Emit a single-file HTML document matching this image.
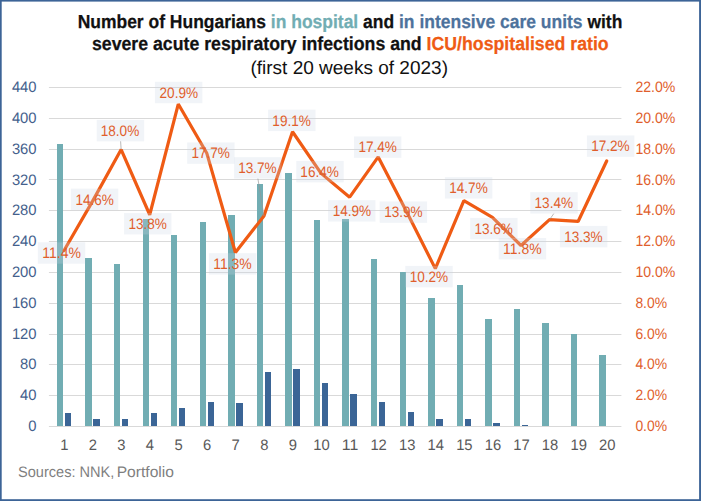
<!DOCTYPE html>
<html><head><meta charset="utf-8"><title>Chart</title>
<style>
html,body{margin:0;padding:0;background:#fff;}
body{width:701px;height:501px;position:relative;overflow:hidden;font-family:"Liberation Sans",sans-serif;}
svg text{font-family:"Liberation Sans",sans-serif;text-rendering:geometricPrecision;}
</style></head><body>
<svg width="701" height="501" viewBox="0 0 701 501" style="position:absolute;left:0;top:0">
<rect x="0" y="0" width="701" height="501" fill="#fff"/>
<rect x="48.9" y="426" width="572.50" height="1" fill="#d9d9d9"/>
<rect x="48.9" y="395" width="572.50" height="1" fill="#d9d9d9"/>
<rect x="48.9" y="364" width="572.50" height="1" fill="#d9d9d9"/>
<rect x="48.9" y="334" width="572.50" height="1" fill="#d9d9d9"/>
<rect x="48.9" y="303" width="572.50" height="1" fill="#d9d9d9"/>
<rect x="48.9" y="272" width="572.50" height="1" fill="#d9d9d9"/>
<rect x="48.9" y="241" width="572.50" height="1" fill="#d9d9d9"/>
<rect x="48.9" y="210" width="572.50" height="1" fill="#d9d9d9"/>
<rect x="48.9" y="179" width="572.50" height="1" fill="#d9d9d9"/>
<rect x="48.9" y="149" width="572.50" height="1" fill="#d9d9d9"/>
<rect x="48.9" y="118" width="572.50" height="1" fill="#d9d9d9"/>
<rect x="48.9" y="87" width="572.50" height="1" fill="#d9d9d9"/>
<rect x="57" y="144" width="6" height="282" fill="#71adb3"/>
<rect x="65" y="413" width="6" height="13" fill="#3b6596"/>
<rect x="85" y="258" width="7" height="168" fill="#71adb3"/>
<rect x="93" y="419" width="7" height="7" fill="#3b6596"/>
<rect x="114" y="264" width="6" height="162" fill="#71adb3"/>
<rect x="122" y="419" width="6" height="7" fill="#3b6596"/>
<rect x="143" y="219" width="6" height="207" fill="#71adb3"/>
<rect x="151" y="413" width="6" height="13" fill="#3b6596"/>
<rect x="171" y="235" width="6" height="191" fill="#71adb3"/>
<rect x="179" y="408" width="6" height="18" fill="#3b6596"/>
<rect x="200" y="222" width="6" height="204" fill="#71adb3"/>
<rect x="208" y="402" width="6" height="24" fill="#3b6596"/>
<rect x="228" y="215" width="7" height="211" fill="#71adb3"/>
<rect x="236" y="403" width="7" height="23" fill="#3b6596"/>
<rect x="257" y="184" width="6" height="242" fill="#71adb3"/>
<rect x="265" y="372" width="6" height="54" fill="#3b6596"/>
<rect x="285" y="173" width="7" height="253" fill="#71adb3"/>
<rect x="293" y="369" width="7" height="57" fill="#3b6596"/>
<rect x="314" y="220" width="6" height="206" fill="#71adb3"/>
<rect x="322" y="383" width="6" height="43" fill="#3b6596"/>
<rect x="342" y="219" width="7" height="207" fill="#71adb3"/>
<rect x="350" y="394" width="7" height="32" fill="#3b6596"/>
<rect x="371" y="259" width="6" height="167" fill="#71adb3"/>
<rect x="379" y="402" width="6" height="24" fill="#3b6596"/>
<rect x="400" y="272" width="6" height="154" fill="#71adb3"/>
<rect x="408" y="412" width="6" height="14" fill="#3b6596"/>
<rect x="428" y="298" width="7" height="128" fill="#71adb3"/>
<rect x="436" y="419" width="7" height="7" fill="#3b6596"/>
<rect x="457" y="285" width="6" height="141" fill="#71adb3"/>
<rect x="465" y="419" width="6" height="7" fill="#3b6596"/>
<rect x="485" y="319" width="7" height="107" fill="#71adb3"/>
<rect x="493" y="423" width="7" height="3" fill="#3b6596"/>
<rect x="514" y="309" width="6" height="117" fill="#71adb3"/>
<rect x="522" y="425" width="6" height="1" fill="#3b6596"/>
<rect x="542" y="323" width="7" height="103" fill="#71adb3"/>
<rect x="571" y="334" width="6" height="92" fill="#71adb3"/>
<rect x="599" y="355" width="7" height="71" fill="#71adb3"/>
<polyline points="64.04,250.46 92.60,201.12 121.16,149.59 149.72,214.75 178.28,104.07 206.84,153.32 235.40,252.50 263.96,216.00 292.52,131.73 321.08,173.36 349.64,197.19 378.20,156.94 406.76,211.91 435.32,268.62 463.88,200.58 492.44,217.34 521.00,245.49 549.56,219.62 578.12,221.46 606.68,161.03" fill="none" stroke="#ef5b14" stroke-width="3.2" stroke-linejoin="bevel" stroke-linecap="round"/>
<line x1="120.60" y1="141.30" x2="121.16" y2="149.59" stroke="rgba(150,150,150,0.75)" stroke-width="0.9"/>
<line x1="257.90" y1="178.60" x2="263.96" y2="216.00" stroke="rgba(150,150,150,0.75)" stroke-width="0.9"/>
<line x1="553.80" y1="213.60" x2="549.56" y2="219.62" stroke="rgba(150,150,150,0.75)" stroke-width="0.9"/>
<rect x="37.81" y="242.30" width="47.4" height="21.4" fill="rgba(199,211,227,0.26)"/>
<rect x="70.87" y="188.70" width="47.4" height="21.4" fill="rgba(199,211,227,0.26)"/>
<rect x="96.74" y="119.90" width="47.4" height="21.4" fill="rgba(199,211,227,0.26)"/>
<rect x="124.04" y="213.05" width="47.4" height="21.4" fill="rgba(199,211,227,0.26)"/>
<rect x="154.90" y="81.80" width="47.4" height="21.4" fill="rgba(199,211,227,0.26)"/>
<rect x="187.20" y="142.40" width="47.4" height="21.4" fill="rgba(199,211,227,0.26)"/>
<rect x="208.92" y="253.20" width="47.4" height="21.4" fill="rgba(199,211,227,0.26)"/>
<rect x="234.10" y="157.20" width="47.4" height="21.4" fill="rgba(199,211,227,0.26)"/>
<rect x="268.10" y="109.70" width="47.4" height="21.4" fill="rgba(199,211,227,0.26)"/>
<rect x="296.30" y="160.90" width="47.4" height="21.4" fill="rgba(199,211,227,0.26)"/>
<rect x="328.08" y="200.20" width="47.4" height="21.4" fill="rgba(199,211,227,0.26)"/>
<rect x="353.96" y="136.40" width="47.4" height="21.4" fill="rgba(199,211,227,0.26)"/>
<rect x="379.70" y="201.40" width="47.4" height="21.4" fill="rgba(199,211,227,0.26)"/>
<rect x="405.25" y="265.90" width="47.4" height="21.4" fill="rgba(199,211,227,0.26)"/>
<rect x="444.92" y="177.20" width="47.4" height="21.4" fill="rgba(199,211,227,0.26)"/>
<rect x="470.20" y="217.90" width="47.4" height="21.4" fill="rgba(199,211,227,0.26)"/>
<rect x="498.72" y="238.00" width="47.4" height="21.4" fill="rgba(199,211,227,0.26)"/>
<rect x="530.30" y="192.20" width="47.4" height="21.4" fill="rgba(199,211,227,0.26)"/>
<rect x="559.90" y="225.90" width="47.4" height="21.4" fill="rgba(199,211,227,0.26)"/>
<rect x="586.90" y="135.40" width="47.4" height="21.4" fill="rgba(199,211,227,0.26)"/>
<text x="61.55" y="258.15" text-anchor="middle" font-size="15.2" fill="#e05e2c" textLength="38.52" lengthAdjust="spacingAndGlyphs">11.4%</text>
<text x="94.65" y="204.75" text-anchor="middle" font-size="15.2" fill="#e05e2c" textLength="38.52" lengthAdjust="spacingAndGlyphs">14.6%</text>
<text x="120.00" y="135.95" text-anchor="middle" font-size="15.2" fill="#e05e2c" textLength="38.52" lengthAdjust="spacingAndGlyphs">18.0%</text>
<text x="147.70" y="229.10" text-anchor="middle" font-size="15.2" fill="#e05e2c" textLength="38.52" lengthAdjust="spacingAndGlyphs">13.8%</text>
<text x="178.80" y="97.85" text-anchor="middle" font-size="15.2" fill="#e05e2c" textLength="38.52" lengthAdjust="spacingAndGlyphs">20.9%</text>
<text x="210.70" y="158.45" text-anchor="middle" font-size="15.2" fill="#e05e2c" textLength="38.52" lengthAdjust="spacingAndGlyphs">17.7%</text>
<text x="232.50" y="269.25" text-anchor="middle" font-size="15.2" fill="#e05e2c" textLength="38.52" lengthAdjust="spacingAndGlyphs">11.3%</text>
<text x="257.40" y="173.25" text-anchor="middle" font-size="15.2" fill="#e05e2c" textLength="38.52" lengthAdjust="spacingAndGlyphs">13.7%</text>
<text x="291.60" y="125.75" text-anchor="middle" font-size="15.2" fill="#e05e2c" textLength="38.52" lengthAdjust="spacingAndGlyphs">19.1%</text>
<text x="319.60" y="176.95" text-anchor="middle" font-size="15.2" fill="#e05e2c" textLength="38.52" lengthAdjust="spacingAndGlyphs">16.4%</text>
<text x="351.90" y="216.25" text-anchor="middle" font-size="15.2" fill="#e05e2c" textLength="38.52" lengthAdjust="spacingAndGlyphs">14.9%</text>
<text x="377.70" y="152.45" text-anchor="middle" font-size="15.2" fill="#e05e2c" textLength="38.52" lengthAdjust="spacingAndGlyphs">17.4%</text>
<text x="403.40" y="217.45" text-anchor="middle" font-size="15.2" fill="#e05e2c" textLength="38.52" lengthAdjust="spacingAndGlyphs">13.9%</text>
<text x="428.95" y="281.95" text-anchor="middle" font-size="15.2" fill="#e05e2c" textLength="38.52" lengthAdjust="spacingAndGlyphs">10.2%</text>
<text x="468.50" y="193.25" text-anchor="middle" font-size="15.2" fill="#e05e2c" textLength="38.52" lengthAdjust="spacingAndGlyphs">14.7%</text>
<text x="493.70" y="233.95" text-anchor="middle" font-size="15.2" fill="#e05e2c" textLength="38.52" lengthAdjust="spacingAndGlyphs">13.6%</text>
<text x="522.30" y="254.05" text-anchor="middle" font-size="15.2" fill="#e05e2c" textLength="38.52" lengthAdjust="spacingAndGlyphs">11.8%</text>
<text x="553.80" y="208.25" text-anchor="middle" font-size="15.2" fill="#e05e2c" textLength="38.52" lengthAdjust="spacingAndGlyphs">13.4%</text>
<text x="583.40" y="241.95" text-anchor="middle" font-size="15.2" fill="#e05e2c" textLength="38.52" lengthAdjust="spacingAndGlyphs">13.3%</text>
<text x="610.40" y="151.45" text-anchor="middle" font-size="15.2" fill="#e05e2c" textLength="38.52" lengthAdjust="spacingAndGlyphs">17.2%</text>
<text x="36.6" y="431.12" text-anchor="end" font-size="15.2" fill="#44608c" textLength="8.24" lengthAdjust="spacingAndGlyphs">0</text>
<text x="635.4" y="431.12" text-anchor="start" font-size="15.2" fill="#e05e2c" textLength="31.68" lengthAdjust="spacingAndGlyphs">0.0%</text>
<text x="36.6" y="400.30" text-anchor="end" font-size="15.2" fill="#44608c" textLength="16.48" lengthAdjust="spacingAndGlyphs">40</text>
<text x="635.4" y="400.30" text-anchor="start" font-size="15.2" fill="#e05e2c" textLength="31.68" lengthAdjust="spacingAndGlyphs">2.0%</text>
<text x="36.6" y="369.48" text-anchor="end" font-size="15.2" fill="#44608c" textLength="16.48" lengthAdjust="spacingAndGlyphs">80</text>
<text x="635.4" y="369.48" text-anchor="start" font-size="15.2" fill="#e05e2c" textLength="31.68" lengthAdjust="spacingAndGlyphs">4.0%</text>
<text x="36.6" y="338.67" text-anchor="end" font-size="15.2" fill="#44608c" textLength="24.71" lengthAdjust="spacingAndGlyphs">120</text>
<text x="635.4" y="338.67" text-anchor="start" font-size="15.2" fill="#e05e2c" textLength="31.68" lengthAdjust="spacingAndGlyphs">6.0%</text>
<text x="36.6" y="307.85" text-anchor="end" font-size="15.2" fill="#44608c" textLength="24.71" lengthAdjust="spacingAndGlyphs">160</text>
<text x="635.4" y="307.85" text-anchor="start" font-size="15.2" fill="#e05e2c" textLength="31.68" lengthAdjust="spacingAndGlyphs">8.0%</text>
<text x="36.6" y="277.03" text-anchor="end" font-size="15.2" fill="#44608c" textLength="24.71" lengthAdjust="spacingAndGlyphs">200</text>
<text x="635.4" y="277.03" text-anchor="start" font-size="15.2" fill="#e05e2c" textLength="39.92" lengthAdjust="spacingAndGlyphs">10.0%</text>
<text x="36.6" y="246.21" text-anchor="end" font-size="15.2" fill="#44608c" textLength="24.71" lengthAdjust="spacingAndGlyphs">240</text>
<text x="635.4" y="246.21" text-anchor="start" font-size="15.2" fill="#e05e2c" textLength="39.92" lengthAdjust="spacingAndGlyphs">12.0%</text>
<text x="36.6" y="215.39" text-anchor="end" font-size="15.2" fill="#44608c" textLength="24.71" lengthAdjust="spacingAndGlyphs">280</text>
<text x="635.4" y="215.39" text-anchor="start" font-size="15.2" fill="#e05e2c" textLength="39.92" lengthAdjust="spacingAndGlyphs">14.0%</text>
<text x="36.6" y="184.58" text-anchor="end" font-size="15.2" fill="#44608c" textLength="24.71" lengthAdjust="spacingAndGlyphs">320</text>
<text x="635.4" y="184.58" text-anchor="start" font-size="15.2" fill="#e05e2c" textLength="39.92" lengthAdjust="spacingAndGlyphs">16.0%</text>
<text x="36.6" y="153.76" text-anchor="end" font-size="15.2" fill="#44608c" textLength="24.71" lengthAdjust="spacingAndGlyphs">360</text>
<text x="635.4" y="153.76" text-anchor="start" font-size="15.2" fill="#e05e2c" textLength="39.92" lengthAdjust="spacingAndGlyphs">18.0%</text>
<text x="36.6" y="122.94" text-anchor="end" font-size="15.2" fill="#44608c" textLength="24.71" lengthAdjust="spacingAndGlyphs">400</text>
<text x="635.4" y="122.94" text-anchor="start" font-size="15.2" fill="#e05e2c" textLength="39.92" lengthAdjust="spacingAndGlyphs">20.0%</text>
<text x="36.6" y="92.12" text-anchor="end" font-size="15.2" fill="#44608c" textLength="24.71" lengthAdjust="spacingAndGlyphs">440</text>
<text x="635.4" y="92.12" text-anchor="start" font-size="15.2" fill="#e05e2c" textLength="39.92" lengthAdjust="spacingAndGlyphs">22.0%</text>
<text x="64.25" y="450.2" text-anchor="middle" font-size="15.2" fill="#595959" textLength="8.24" lengthAdjust="spacingAndGlyphs">1</text>
<text x="92.83" y="450.2" text-anchor="middle" font-size="15.2" fill="#595959" textLength="8.24" lengthAdjust="spacingAndGlyphs">2</text>
<text x="121.41" y="450.2" text-anchor="middle" font-size="15.2" fill="#595959" textLength="8.24" lengthAdjust="spacingAndGlyphs">3</text>
<text x="149.99" y="450.2" text-anchor="middle" font-size="15.2" fill="#595959" textLength="8.24" lengthAdjust="spacingAndGlyphs">4</text>
<text x="178.57" y="450.2" text-anchor="middle" font-size="15.2" fill="#595959" textLength="8.24" lengthAdjust="spacingAndGlyphs">5</text>
<text x="207.15" y="450.2" text-anchor="middle" font-size="15.2" fill="#595959" textLength="8.24" lengthAdjust="spacingAndGlyphs">6</text>
<text x="235.73" y="450.2" text-anchor="middle" font-size="15.2" fill="#595959" textLength="8.24" lengthAdjust="spacingAndGlyphs">7</text>
<text x="264.31" y="450.2" text-anchor="middle" font-size="15.2" fill="#595959" textLength="8.24" lengthAdjust="spacingAndGlyphs">8</text>
<text x="292.89" y="450.2" text-anchor="middle" font-size="15.2" fill="#595959" textLength="8.24" lengthAdjust="spacingAndGlyphs">9</text>
<text x="321.47" y="450.2" text-anchor="middle" font-size="15.2" fill="#595959" textLength="16.48" lengthAdjust="spacingAndGlyphs">10</text>
<text x="350.05" y="450.2" text-anchor="middle" font-size="15.2" fill="#595959" textLength="16.48" lengthAdjust="spacingAndGlyphs">11</text>
<text x="378.63" y="450.2" text-anchor="middle" font-size="15.2" fill="#595959" textLength="16.48" lengthAdjust="spacingAndGlyphs">12</text>
<text x="407.21" y="450.2" text-anchor="middle" font-size="15.2" fill="#595959" textLength="16.48" lengthAdjust="spacingAndGlyphs">13</text>
<text x="435.79" y="450.2" text-anchor="middle" font-size="15.2" fill="#595959" textLength="16.48" lengthAdjust="spacingAndGlyphs">14</text>
<text x="464.37" y="450.2" text-anchor="middle" font-size="15.2" fill="#595959" textLength="16.48" lengthAdjust="spacingAndGlyphs">15</text>
<text x="492.95" y="450.2" text-anchor="middle" font-size="15.2" fill="#595959" textLength="16.48" lengthAdjust="spacingAndGlyphs">16</text>
<text x="521.53" y="450.2" text-anchor="middle" font-size="15.2" fill="#595959" textLength="16.48" lengthAdjust="spacingAndGlyphs">17</text>
<text x="550.11" y="450.2" text-anchor="middle" font-size="15.2" fill="#595959" textLength="16.48" lengthAdjust="spacingAndGlyphs">18</text>
<text x="578.69" y="450.2" text-anchor="middle" font-size="15.2" fill="#595959" textLength="16.48" lengthAdjust="spacingAndGlyphs">19</text>
<text x="607.27" y="450.2" text-anchor="middle" font-size="15.2" fill="#595959" textLength="16.48" lengthAdjust="spacingAndGlyphs">20</text>
<text x="18" y="477" font-size="15.2" fill="#7f7f7f" textLength="96.3" lengthAdjust="spacingAndGlyphs">Sources: NNK,</text>
<text x="116.7" y="477" font-size="15.2" fill="#7f7f7f" textLength="57.3" lengthAdjust="spacingAndGlyphs">Portfolio</text>
<text x="350" y="28.4" text-anchor="middle" font-size="18.9" font-weight="bold" fill="#111" stroke="#111" stroke-width="0.25" textLength="544.7" lengthAdjust="spacingAndGlyphs">Number of Hungarians <tspan fill="#71adb3" stroke="#71adb3">in hospital</tspan> and <tspan fill="#4d729c" stroke="#4d729c">in intensive care units</tspan> with</text>
<text x="350.3" y="50" text-anchor="middle" font-size="18.9" font-weight="bold" fill="#111" stroke="#111" stroke-width="0.25" textLength="516.7" lengthAdjust="spacingAndGlyphs">severe acute respiratory infections and <tspan fill="#ef5b14" stroke="#ef5b14">ICU/hospitalised ratio</tspan></text>
<text x="349.2" y="74" text-anchor="middle" font-size="18.8" fill="#111" textLength="197.6" lengthAdjust="spacingAndGlyphs">(first 20 weeks of 2023)</text>
<rect x="0" y="0" width="701" height="1.6" fill="#3d6497"/>
<rect x="0" y="0" width="1.7" height="501" fill="#3d6497"/>
<rect x="699.1" y="0" width="1.9" height="501" fill="#3d6497"/>
<rect x="0" y="499.2" width="701" height="1.8" fill="#3d6497"/>
</svg>
</body></html>
